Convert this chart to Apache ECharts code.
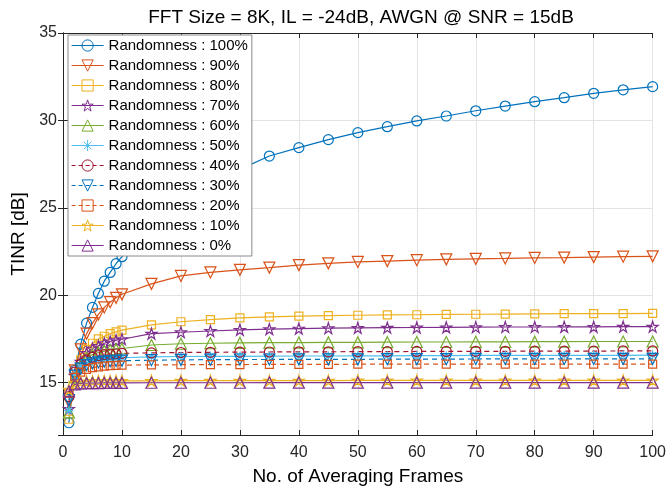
<!DOCTYPE html>
<html>
  <head>
    <title></title>
    <meta charset="UTF-8" />
    <script src="https://cdn.jsdelivr.net/npm/echarts@6/dist/echarts.min.js"></script>
  </head>
  <body style="margin:0">
    <div id="main"></div>
    <script>
      const width = 669;
      const height = 491;
      const main = document.getElementById('main');
      main.style.width = `${width}px`;
      main.style.height = `${height}px`;

      // averaging frames (x)
      const frames = [1, 2, 3, 4, 5, 6, 7, 8, 9, 10, 15, 20, 25, 30, 35, 40, 45, 50, 55, 60, 65, 70, 75, 80, 85, 90, 95, 100];

      // TINR [dB] per randomness level
      const r100 = [12.7, 15.7, 17.2, 18.4, 19.3, 20.1, 20.8, 21.3, 21.8, 22.2, 24.2, 25.4, 26.4, 27.2, 27.96, 28.44, 28.9, 29.3, 29.64, 29.97, 30.25, 30.55, 30.82, 31.07, 31.3, 31.55, 31.75, 31.93];
      const r90 = [13.9, 15.7, 16.9, 17.8, 18.4, 18.9, 19.3, 19.6, 19.85, 20.05, 20.65, 21.1, 21.3, 21.45, 21.58, 21.72, 21.82, 21.9, 21.95, 22.0, 22.05, 22.08, 22.1, 22.13, 22.15, 22.18, 22.2, 22.22];
      const r80 = [12.9, 15.3, 16.3, 16.9, 17.25, 17.5, 17.65, 17.8, 17.9, 18.0, 18.3, 18.48, 18.6, 18.7, 18.76, 18.8, 18.83, 18.85, 18.87, 18.88, 18.9, 18.91, 18.92, 18.93, 18.94, 18.95, 18.95, 18.96];
      const r70 = [13.5, 15.4, 16.2, 16.7, 16.95, 17.1, 17.25, 17.35, 17.42, 17.48, 17.8, 17.88, 17.95, 18.02, 18.06, 18.09, 18.11, 18.13, 18.14, 18.15, 18.16, 18.17, 18.18, 18.18, 18.19, 18.19, 18.2, 18.2];
      const r60 = [13.3, 15.3, 16.0, 16.4, 16.6, 16.72, 16.8, 16.86, 16.91, 16.95, 17.15, 17.22, 17.25, 17.27, 17.28, 17.29, 17.3, 17.3, 17.31, 17.32, 17.32, 17.33, 17.33, 17.34, 17.34, 17.35, 17.35, 17.35];
      const r50 = [13.4, 15.4, 15.9, 16.1, 16.22, 16.3, 16.35, 16.38, 16.4, 16.42, 16.47, 16.49, 16.5, 16.5, 16.51, 16.52, 16.52, 16.53, 16.53, 16.54, 16.54, 16.55, 16.55, 16.55, 16.56, 16.56, 16.56, 16.57];
      const r40 = [14.2, 15.6, 16.05, 16.3, 16.45, 16.54, 16.6, 16.63, 16.65, 16.67, 16.7, 16.72, 16.73, 16.74, 16.75, 16.76, 16.76, 16.77, 16.77, 16.78, 16.78, 16.79, 16.79, 16.8, 16.8, 16.8, 16.81, 16.81];
      const r30 = [14.0, 15.4, 15.8, 16.0, 16.1, 16.15, 16.2, 16.22, 16.24, 16.25, 16.28, 16.3, 16.31, 16.32, 16.32, 16.33, 16.33, 16.33, 16.34, 16.34, 16.34, 16.35, 16.35, 16.35, 16.35, 16.35, 16.36, 16.36];
      const r20 = [14.4, 15.3, 15.6, 15.75, 15.85, 15.9, 15.94, 15.97, 15.98, 16.0, 16.01, 16.02, 16.03, 16.03, 16.04, 16.04, 16.04, 16.05, 16.05, 16.05, 16.05, 16.06, 16.06, 16.06, 16.06, 16.06, 16.06, 16.06];
      const r10 = [14.6, 15.0, 15.05, 15.07, 15.08, 15.09, 15.1, 15.1, 15.1, 15.1, 15.1, 15.11, 15.11, 15.11, 15.11, 15.11, 15.11, 15.12, 15.12, 15.12, 15.12, 15.12, 15.12, 15.12, 15.12, 15.12, 15.12, 15.12];
      const r0 = [14.5, 14.9, 14.95, 14.96, 14.97, 14.97, 14.98, 14.98, 14.98, 14.98, 14.99, 14.99, 14.99, 14.99, 15.0, 15.0, 15.0, 15.0, 15.0, 15.0, 15.0, 15.0, 15.0, 15.0, 15.0, 15.0, 15.0, 15.0];

      const names = ['Randomness : 100%', 'Randomness : 90%', 'Randomness : 80%', 'Randomness : 70%',
        'Randomness : 60%', 'Randomness : 50%', 'Randomness : 40%', 'Randomness : 30%',
        'Randomness : 20%', 'Randomness : 10%', 'Randomness : 0%'];
      const values = [r100, r90, r80, r70, r60, r50, r40, r30, r20, r10, r0];

      // marker shapes (hollow, MATLAB style)
      const star = 'path://M50,0L61.23,34.55L97.55,34.55L68.16,55.9L79.39,90.45L50,69.1L20.61,90.45L31.84,55.9L2.45,34.55L38.77,34.55Z';
      const asterisk = 'path://M50,0L50,100M0,50L100,50M16,16L84,84M84,16L16,84';
      const downTri = 'path://M0,0L100,0L50,86.6Z';
      const upTri = 'path://M50,0L100,86.6L0,86.6Z';

      const colors = ['#0072BD', '#D95319', '#EDB120', '#7E2F8E', '#77AC30', '#4DBEEE', '#A2142F', '#0072BD', '#D95319', '#EDB120', '#7E2F8E'];
      const symbols = ['circle', downTri, 'rect', star, upTri, asterisk, 'circle', downTri, 'rect', star, upTri];
      const sizes = [10, 11, 8, 11, 11, 9, 10, 11, 8, 11, 11];
      const dashed = [false, false, false, false, false, false, true, true, true, false, false];

      const font = 'Arial, "Liberation Sans", Helvetica, sans-serif';
      const axisColor = '#262626';
      const hollow = 'rgba(255,255,255,0)';

      const series = names.map((name, i) => ({
        name,
        type: 'line',
        data: frames.map((x, j) => [x, values[i][j]]),
        symbol: symbols[i],
        symbolSize: sizes[i],
        showAllSymbol: true,
        clip: false,
        lineStyle: { color: colors[i], width: 1.2, type: dashed[i] ? [5, 4] : 'solid' },
        itemStyle: { color: hollow, borderColor: colors[i], borderWidth: 1.2 },
        emphasis: { disabled: true }
      }));

      const legendData = names.map((name, i) => ({
        name,
        itemStyle: { color: hollow, borderColor: colors[i], borderWidth: 1 },
        lineStyle: { color: colors[i], width: 1.2, type: dashed[i] ? [4, 3] : 'solid' }
      }));

      const myChart = echarts.init(main);
      const option = {
        animation: false,
        textStyle: { fontFamily: font },
        title: {
          text: 'FFT Size = 8K, IL = -24dB, AWGN @ SNR = 15dB',
          left: 356,
          top: 3,
          textAlign: 'center',
          textStyle: { fontSize: 19, fontWeight: 'normal', color: '#000', fontFamily: font }
        },
        legend: {
          orient: 'vertical',
          left: 68,
          top: 35,
          itemWidth: 32,
          itemHeight: 14,
          itemGap: 5,
          padding: [3, 4, 3, 3],
          backgroundColor: '#fff',
          borderColor: '#8a8a8a',
          borderWidth: 1,
          borderRadius: 0,
          textStyle: { fontSize: 15, color: '#000', fontFamily: font },
          data: legendData
        },
        grid: { left: 63, right: 14, top: 33, bottom: 56, show: false },
        xAxis: [
          {
            type: 'value',
            min: 0,
            max: 100,
            interval: 10,
            name: 'No. of Averaging Frames',
            nameLocation: 'middle',
            nameGap: 32,
            nameTextStyle: { fontSize: 19, color: '#000' },
            axisLine: { lineStyle: { color: axisColor } },
            axisTick: { inside: true, length: 5, lineStyle: { color: axisColor } },
            axisLabel: { fontSize: 16, color: axisColor, margin: 10 },
            splitLine: { show: true, lineStyle: { color: '#e3e3e3' } }
          },
          {
            type: 'value',
            position: 'top',
            min: 0,
            max: 100,
            interval: 10,
            axisLine: { show: true, lineStyle: { color: axisColor } },
            axisTick: { inside: true, length: 5, lineStyle: { color: axisColor } },
            axisLabel: { show: false },
            splitLine: { show: false }
          }
        ],
        yAxis: [
          {
            type: 'value',
            min: 12,
            max: 35,
            splitNumber: 5,
            name: 'TINR [dB]',
            nameLocation: 'middle',
            nameGap: 34,
            nameTextStyle: { fontSize: 19, color: '#000' },
            axisLine: { show: true, lineStyle: { color: axisColor } },
            axisTick: { inside: true, length: 5, lineStyle: { color: axisColor } },
            axisLabel: { fontSize: 16, color: axisColor, margin: 6, showMinLabel: false },
            splitLine: { show: true, lineStyle: { color: '#e3e3e3' } }
          },
          {
            type: 'value',
            position: 'right',
            min: 12,
            max: 35,
            splitNumber: 5,
            axisLine: { show: true, lineStyle: { color: axisColor } },
            axisTick: { inside: true, length: 5, lineStyle: { color: axisColor } },
            axisLabel: { show: false },
            splitLine: { show: false }
          }
        ],
        series
      };
      myChart.setOption(option);
    </script>
  </body>
</html>
